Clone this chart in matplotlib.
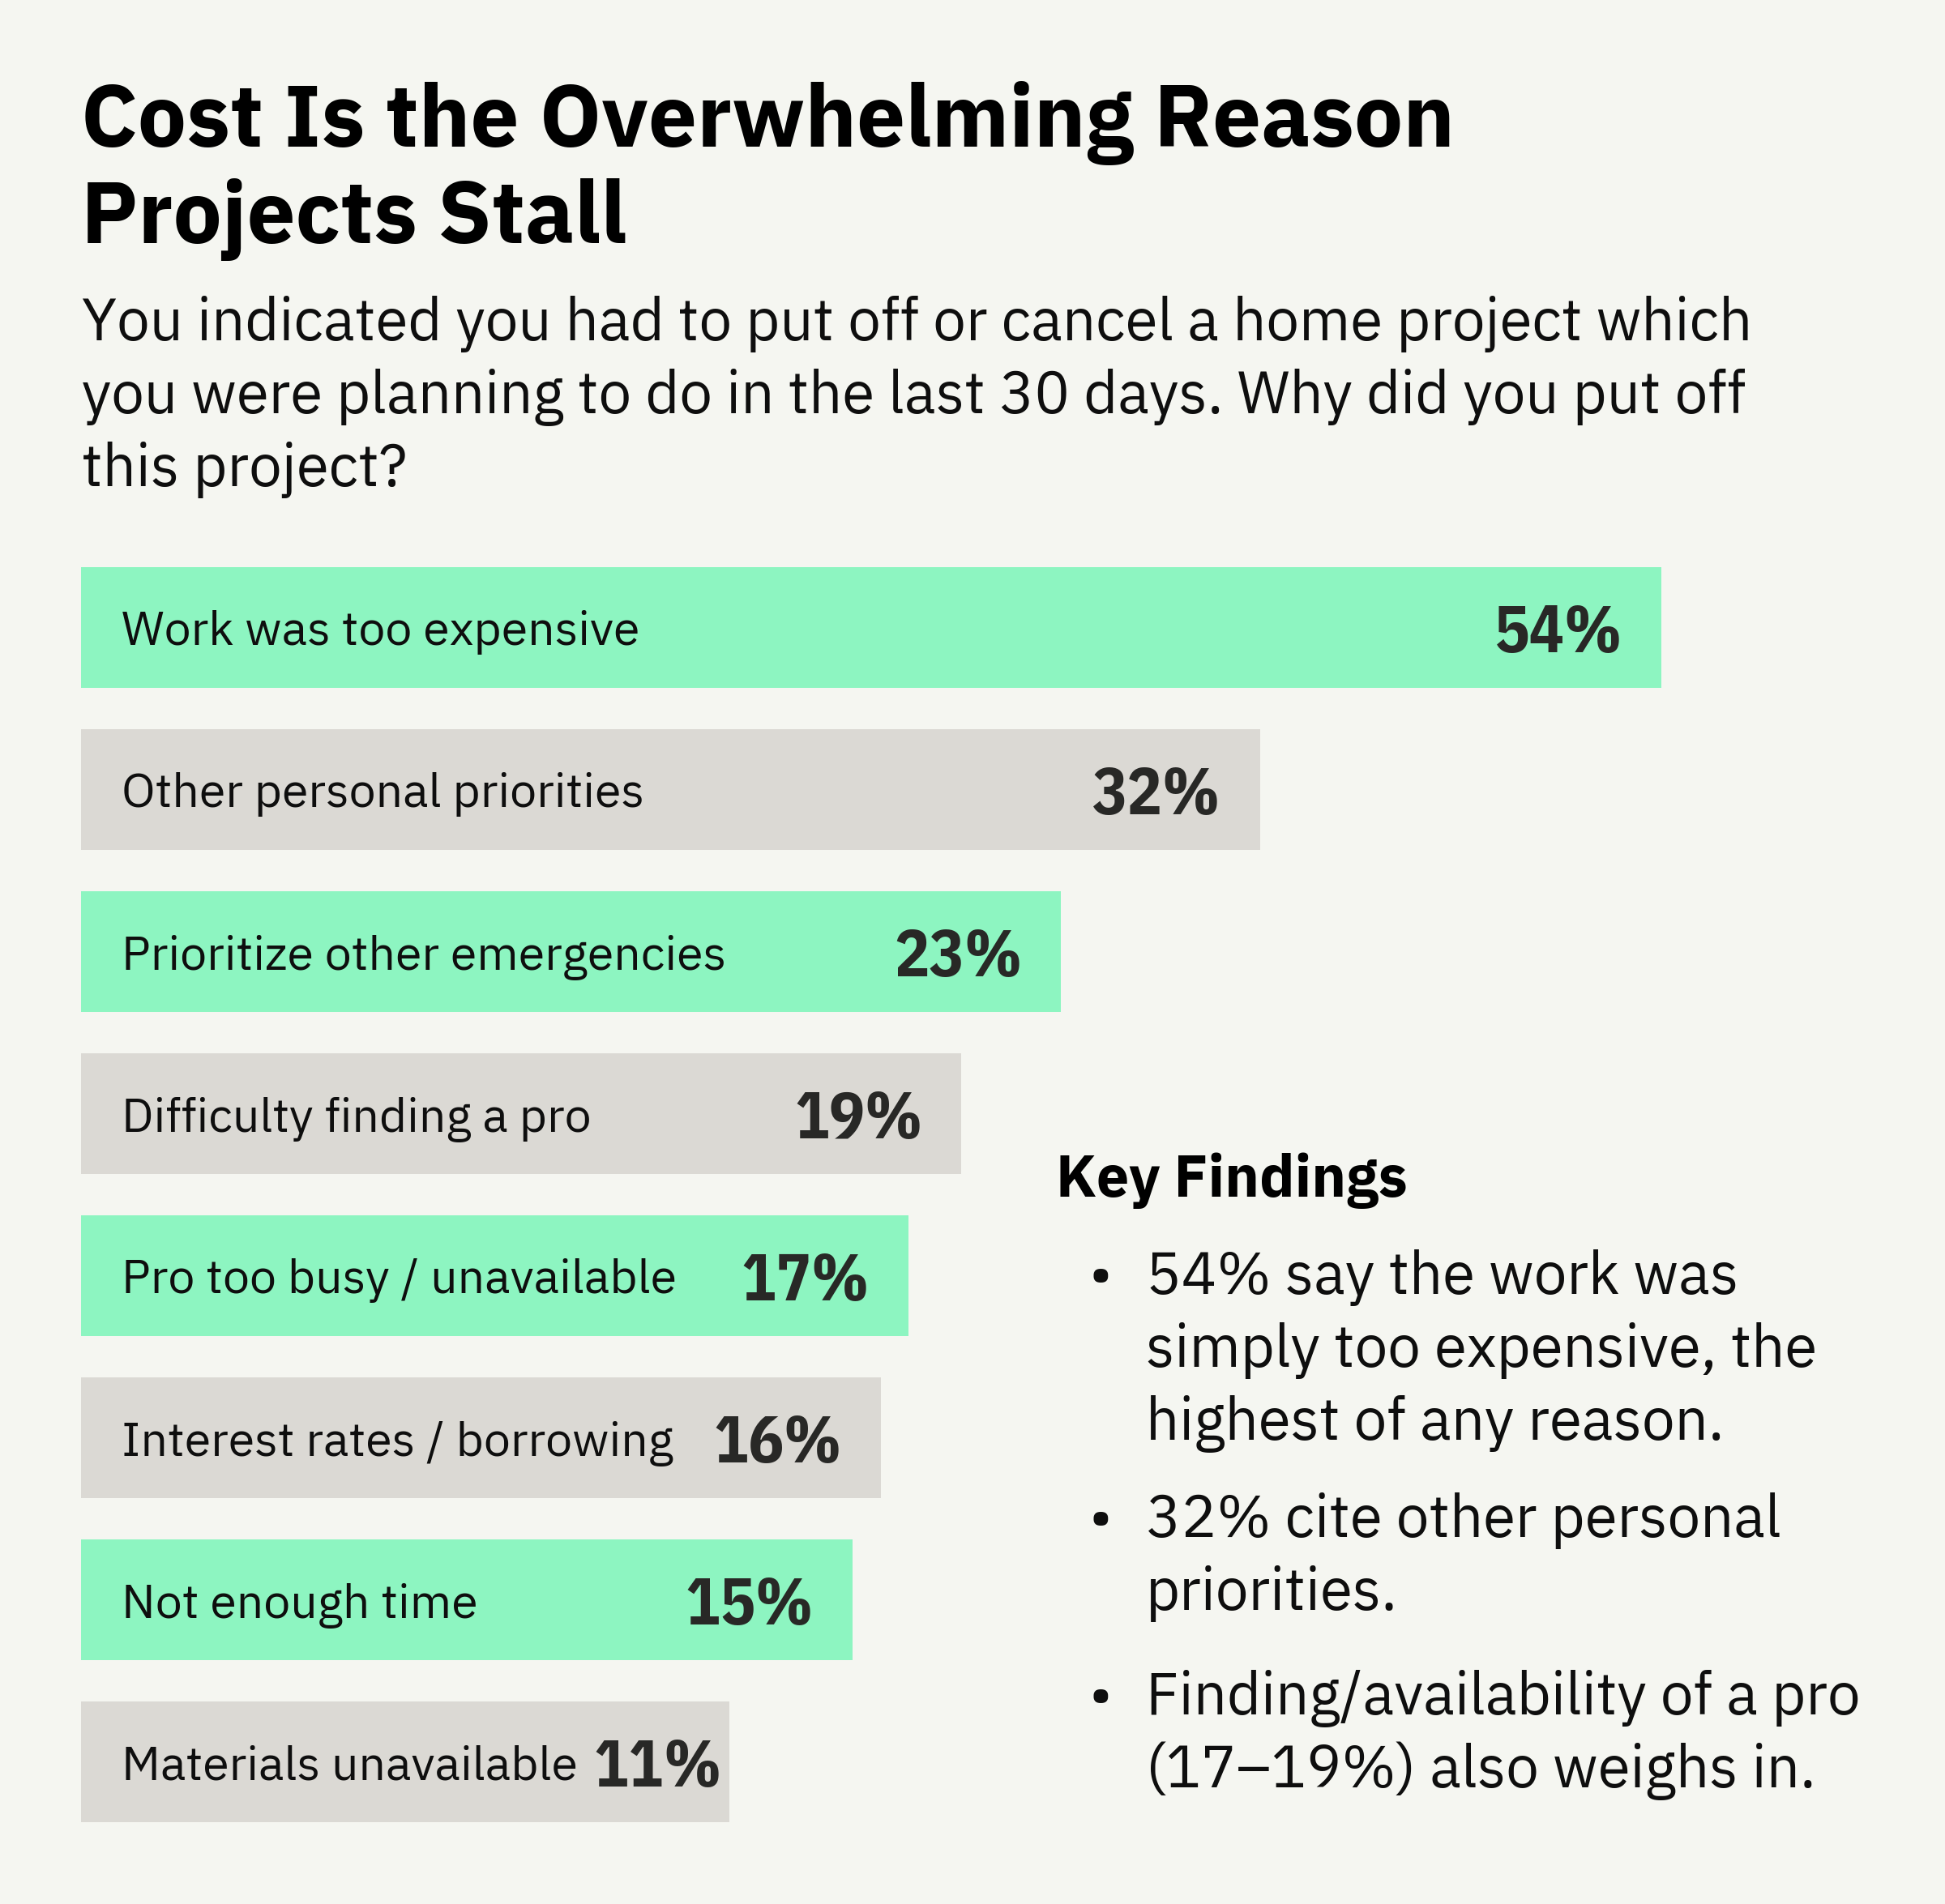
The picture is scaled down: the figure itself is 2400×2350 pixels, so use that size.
import numpy as np
import matplotlib
matplotlib.use("Agg")
import matplotlib.pyplot as plt
from matplotlib import font_manager
from matplotlib.font_manager import FontProperties

# data
reasons = [
    "Work was too expensive",
    "Other personal priorities",
    "Prioritize other emergencies",
    "Difficulty finding a pro",
    "Pro too busy / unavailable",
    "Interest rates / borrowing",
    "Not enough time",
    "Materials unavailable",
]
shares = [54, 32, 23, 19, 17, 16, 15, 11]
highlight = [True, False, True, False, True, False, True, False]

title_lines = ["Cost Is the Overwhelming Reason", "Projects Stall"]
question_lines = [
    "You indicated you had to put off or cancel a home project which",
    "you were planning to do in the last 30 days. Why did you put off",
    "this project?",
]
findings_title = "Key Findings"
findings = [
    ["54% say the work was", "simply too expensive, the", "highest of any reason."],
    ["32% cite other personal", "priorities."],
    ["Finding/availability of a pro", "(17\u201319%) also weighs in."],
]

BG = "#F5F6F1"
GREEN = "#8DF5C1"
GREY = "#DBD9D4"
INK = "#0E0E0E"
NUM_INK = "#282826"

W, H = 2400, 2350
fig = plt.figure(figsize=(W / 100, H / 100), dpi=100, facecolor=BG)
renderer = fig.canvas.get_renderer()

# fonts: Plex Sans here is a variable file (regular only), so bold text uses a
# static Plex family; prefer one whose figures are proportional, like the original
have = {(f.name, f.weight) for f in font_manager.fontManager.ttflist}
plex = ["IBM Plex Sans", "IBM Plex Sans Hebrew", "IBM Plex Sans Thai", "IBM Plex Sans Devanagari",
        "IBM Plex Sans Arabic", "IBM Plex Sans JP", "IBM Plex Sans KR"]


def proportional(fam, weight):
    prop = FontProperties(family=fam, weight=weight, size=50)
    w11 = renderer.get_text_width_height_descent("11", prop, ismath=False)[0]
    w54 = renderer.get_text_width_height_descent("54", prop, ismath=False)[0]
    return w11 < 0.85 * w54


def pick(weight, fallback):
    found = [f for f in plex if (f, weight) in have]
    for f in found:
        if proportional(f, weight):
            return f, True
    return (found[0] if found else fallback), False


BODY, _ = pick(400, "Roboto")
HEAVY, heavy_prop = pick(700, "Roboto")
NUMS = HEAVY if heavy_prop or ("IBM Plex Sans Condensed", 700) not in have else "IBM Plex Sans Condensed"
plt.rcParams["font.family"] = [BODY, "DejaVu Sans"]


def fx(x):
    return x / W


def fy(y):
    return 1 - y / H


# title and question
for i, line in enumerate(title_lines):
    fig.text(fx(100), fy(181 + 119 * i), line, fontsize=77, fontweight="bold",
             family=[HEAVY, "DejaVu Sans"], color="#000000", va="baseline", ha="left")
for i, line in enumerate(question_lines):
    fig.text(fx(101), fy(420 + 90 * i), line, fontsize=52.3,
             color=INK, va="baseline", ha="left")

# bars: lengths follow a compressed (power) scale of the share
p = 0.56
ax = fig.add_axes([fx(100), fy(2249), fx(2050) - fx(100), fy(700) - fy(2249)])
ax.set_xscale("function", functions=(lambda x: np.power(np.clip(x, 0, None), p),
                                     lambda x: np.power(np.clip(x, 0, None), 1 / p)))
ypos = np.arange(len(reasons))
colors = [GREEN if h else GREY for h in highlight]
ax.barh(ypos, shares, height=0.745, color=colors, left=0)
ax.set_xlim(0, max(shares))
ax.set_ylim(len(reasons) - 1 + 0.3725, -0.3725)
ax.axis("off")

for y, label, v in zip(ypos, reasons, shares):
    lab = ax.annotate(label, xy=(0, y), xytext=(50, -22), textcoords="offset pixels",
                      ha="left", va="baseline", fontsize=42.5, color=INK)
    val = ax.annotate(f"{v}%", xy=(v, y), xytext=(-48, -30), textcoords="offset pixels",
                      ha="right", va="baseline", fontsize=58, fontweight="bold",
                      family=[NUMS, "DejaVu Sans"], color=NUM_INK)
    # keep the number clear of the label on short bars
    need = lab.get_window_extent(renderer).x1 + 20 - val.get_window_extent(renderer).x0
    if need > 0:
        ox, oy = val.xyann
        val.xyann = (ox + need, oy)

# key findings
fig.text(fx(1303), fy(1477), findings_title, fontsize=51.7, fontweight="bold",
         family=[HEAVY, "DejaVu Sans"], color="#000000", va="baseline", ha="left")
starts = [1597, 1897, 2116]
for start, item in zip(starts, findings):
    fig.text(fx(1358), fy(start), "\u2022", fontsize=52.3, color=INK,
             va="baseline", ha="center")
    for j, line in enumerate(item):
        fig.text(fx(1414), fy(start + 90 * j), line, fontsize=52.3, color=INK,
                 va="baseline", ha="left")

fig.savefig("out.png", dpi=100, facecolor=BG)
